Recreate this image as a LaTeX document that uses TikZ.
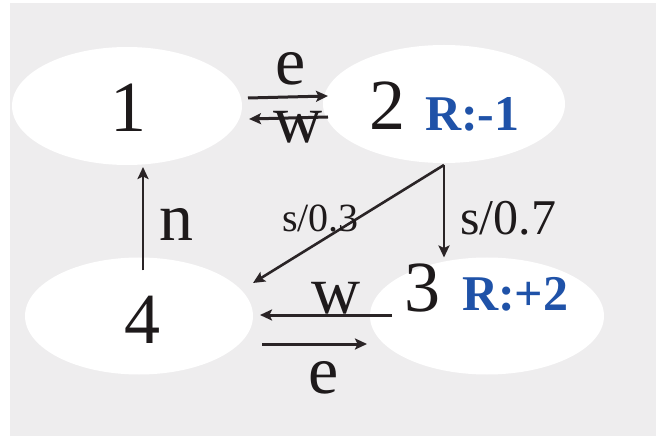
\documentclass[tikz,border=0pt]{standalone}
\usepackage{fontspec}
\setmainfont{Liberation Serif}
\usetikzlibrary{arrows.meta,shapes.geometric}
\definecolor{mdpink}{HTML}{1E1A1B}
\definecolor{mdpline}{HTML}{2A2426}
\definecolor{mdpblue}{HTML}{1F52A8}
\definecolor{mdpback}{HTML}{EEEDEE}
\tikzset{
  mdp state/.style={ellipse, fill=white, draw=none, inner sep=0pt, outer sep=0pt},
  mdp num/.style={anchor=base, inner sep=0pt, text=mdpink, font=\fontsize{72}{72}\selectfont},
  mdp act/.style={anchor=base, inner sep=0pt, text=mdpink, font=\fontsize{68}{68}\selectfont},
  mdp prob/.style={anchor=base west, inner sep=0pt, text=mdpink},
  mdp reward/.style={anchor=base west, inner sep=0pt, text=mdpblue,
    font=\fontsize{50}{50}\selectfont\bfseries},
  mdp arrow/.style={-{Stealth[length=12pt,width=11pt,inset=2.5pt]}, line width=3pt,
    draw=mdpline}
}

\begin{document}
\begin{tikzpicture}[x=1pt,y=-1pt]
  \useasboundingbox (0,0) rectangle (661,438);
  \fill[mdpback] (10,3) rectangle (656,436);
  % states
  \node[mdp state, minimum width=230pt, minimum height=118pt] (e1) at (127,106) {};
  \node[mdp state, minimum width=242pt, minimum height=118pt] (e2) at (444,104) {};
  \node[mdp state, minimum width=234pt, minimum height=117pt] (e3) at (487,316) {};
  \node[mdp state, minimum width=228pt, minimum height=117pt] (e4) at (139,316) {};
  \node[mdp num] (n1) at (128.5,132) {1};
  \node[mdp num] (n2) at (387.5,130) {2};
  \node[mdp num] (n3) at (422.5,311) {3};
  \node[mdp num] (n4) at (142,343) {4};
  \node[mdp reward] (r2) at (425,131) {R:-1};
  \node[mdp reward] (r3) at (462,310) {R:+2};
  % actions
  \draw[mdp arrow] ([xshift=6pt,yshift=8pt]e1.east) -- ([xshift=5pt,yshift=8pt]e2.west);
  \draw[mdp arrow] ([xshift=5pt,yshift=-13pt]e2.west) -- ([xshift=7pt,yshift=-13pt]e1.east);
  \draw[mdp arrow] ([xshift=22pt,yshift=1pt]e3.west) -- ([xshift=7pt,yshift=1pt]e4.east);
  \draw[mdp arrow] ([xshift=9pt,yshift=-28pt]e4.east) -- ([xshift=-3pt,yshift=-28pt]e3.west);
  \draw[mdp arrow, line width=2.8pt] ([xshift=4pt,yshift=-13pt]e4.north) -- ([xshift=16pt,yshift=-2pt]e1.south);
  \draw[mdp arrow, line width=2.6pt] ([yshift=-2pt]e2.south) -- (e2.south |- e3.north);
  \draw[mdp arrow, line width=2.6pt] ([yshift=-2pt]e2.south) -- ([yshift=33pt]e4.east);
  \node[mdp act] (ae12) at (291,85) {e};
  \node[mdp act] (aw21) at (298,143) {w};
  \node[mdp act] (an41) at (176,241) {n};
  \node[mdp act] (aw34) at (336,313) {w};
  \node[mdp act] (ae43) at (324,393) {e};
  \node[mdp prob, font=\fontsize{40}{40}\selectfont] (p24) at (282,232) {s/0.3};
  \node[mdp prob, font=\fontsize{50}{50}\selectfont] (p23) at (460,235) {s/0.7};
\end{tikzpicture}
\end{document}
